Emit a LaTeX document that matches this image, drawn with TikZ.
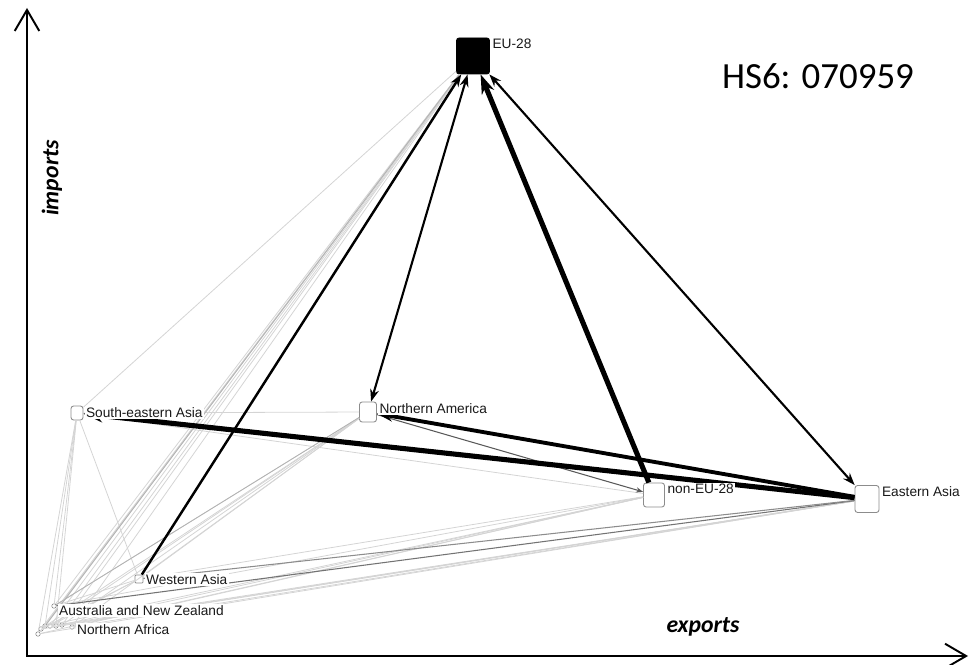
\documentclass[tikz,border=0pt]{standalone}
\usepackage{fontspec}
\setmainfont{Liberation Sans}
\newfontfamily\calibri{Carlito}
\usepackage{tikz}
\usetikzlibrary{arrows.meta,positioning}
\tikzset{
  axis/.style={line width=1.1pt, {Straight Barb[length=12pt,width=14pt]}-{Straight Barb[length=12pt,width=14pt]}},
  axlbl/.style={font=\calibri\bfseries\itshape\fontsize{13.5}{15}\selectfont, inner sep=1pt},
  hslbl/.style={font=\calibri\fontsize{21}{24}\selectfont, inner sep=1pt},
  region/.style={rectangle, rounded corners=1.5pt, draw=black!45, fill=white, line width=0.5pt, inner sep=0pt},
  dot/.style={circle, draw=black!50, fill=white, line width=0.3pt, minimum size=0.09cm, inner sep=0pt},
  lbl/.style={font=\fontsize{7.8}{9}\selectfont, text=black!90, fill=white, inner sep=0.8pt},
  faint/.style={line width=0.45pt, black!17},
  grey/.style={line width=0.6pt, black!55},
  flowXL/.style={line width=2.9pt, black, -{Stealth[length=11pt,width=7.5pt]}},
  flowL/.style={line width=2.2pt, black, -{Stealth[length=9pt,width=6pt]}},
  flowM/.style={line width=1.4pt, black, -{Stealth[length=7pt,width=5pt]}},
  flowMM/.style={line width=1.2pt, black, {Stealth[length=7pt,width=5pt]}-{Stealth[length=7pt,width=5pt]}},
  flowS/.style={line width=0.6pt, black!65, -{Stealth[length=4pt,width=3pt]}},
}

\begin{document}
\begin{tikzpicture}[x=0.02cm, y=-0.02cm]
\useasboundingbox (0,0) rectangle (970,665);
% --- axes ---
\coordinate (ytip) at (27,8);
\coordinate (orig) at (27,656);
\coordinate (xtip) at (968,656);
\draw[axis] (ytip) -- (orig) -- (xtip);
\node[axlbl, rotate=90] (imp) at (52,178) {imports};
\node[axlbl] (exp) at (703,627) {exports};
\node[hslbl] (hs) at (818,76) {HS6: 070959};
% --- regions ---
\node[region, fill=black, draw=black, minimum width=0.66cm, minimum height=0.72cm] (eu) at (473,56) {};
\node[region, minimum width=0.34cm, minimum height=0.40cm] (na) at (368,412) {};
\node[region, minimum width=0.24cm, minimum height=0.28cm] (sea) at (77,413) {};
\node[region, minimum width=0.42cm, minimum height=0.48cm] (neu) at (654,495) {};
\node[region, minimum width=0.48cm, minimum height=0.54cm] (ea) at (867,499) {};
\node[region, rounded corners=0.5pt, minimum size=0.16cm] (wa) at (139,579) {};
\node[dot] (anz) at (54,606) {};
\node[dot] (naf) at (72,627) {};
% small ones in the corner
\node[dot] (c1) at (38,634) {};
\node[dot] (c2) at (41,629) {};
\node[dot] (c3) at (45,626) {};
\node[dot] (c4) at (50,626) {};
\node[dot] (c5) at (56,626) {};
\node[dot] (c6) at (62,625) {};
% --- faint flows ---
\foreach \s in {c1,c2,c3,c4,c5,c6,anz,naf,sea}
  \draw[faint] (\s) -- (eu);
\foreach \s in {c2,c4,c6,anz,naf,sea,wa}
  \draw[faint] (\s) -- (na);
\foreach \s in {c1,c3,c5,anz,naf,sea,wa}
  \draw[faint] (\s) -- (neu);
\foreach \s in {c1,c2,c4,c6,naf}
  \draw[faint] (\s) -- (ea);
\foreach \t in {c1,c3,c5,anz,wa}
  \draw[faint] (sea) -- (\t);
\foreach \s in {c2,c4,anz}
  \draw[faint] (\s) -- (wa);
\draw[faint, black!30] (c3) -- (eu);
\draw[faint, black!30] (anz) -- (na);
% --- grey flows ---
\draw[grey] (anz) -- (ea);
\draw[grey, black!45] (wa) -- (ea);
\draw[flowS] (na) -- (neu);
% --- main flows ---
\draw[flowXL] (neu) -- (eu);
\draw[flowXL] (ea) -- (sea);
\draw[flowL] (ea) -- (na);
\draw[flowMM] (eu) -- (ea);
\draw[flowMM] (eu) -- (na);
\draw[flowM] (wa) -- (eu);
% --- labels ---
\node[lbl, below right=0pt and 0.5pt of eu.north east] (eul) {EU-28};
\node[lbl, below right=0pt and 0.5pt of na.north east] (nal) {Northern America};
\node[lbl, below right=0pt and 0.5pt of sea.north east] (seal) {South-eastern Asia};
\node[lbl, below right=0pt and 0.5pt of neu.north east] (neul) {non-EU-28};
\node[lbl, below right=0pt and 0.5pt of ea.north east] (eal) {Eastern Asia};
\node[lbl, below right=-1pt and 0.5pt of wa.north east] (wal) {Western Asia};
\node[lbl, right=0.5pt of anz, yshift=-2.5pt] (anzl) {Australia and New Zealand};
\node[lbl, right=0.5pt of naf, yshift=-1.5pt] (nafl) {Northern Africa};
\end{tikzpicture}
\end{document}
